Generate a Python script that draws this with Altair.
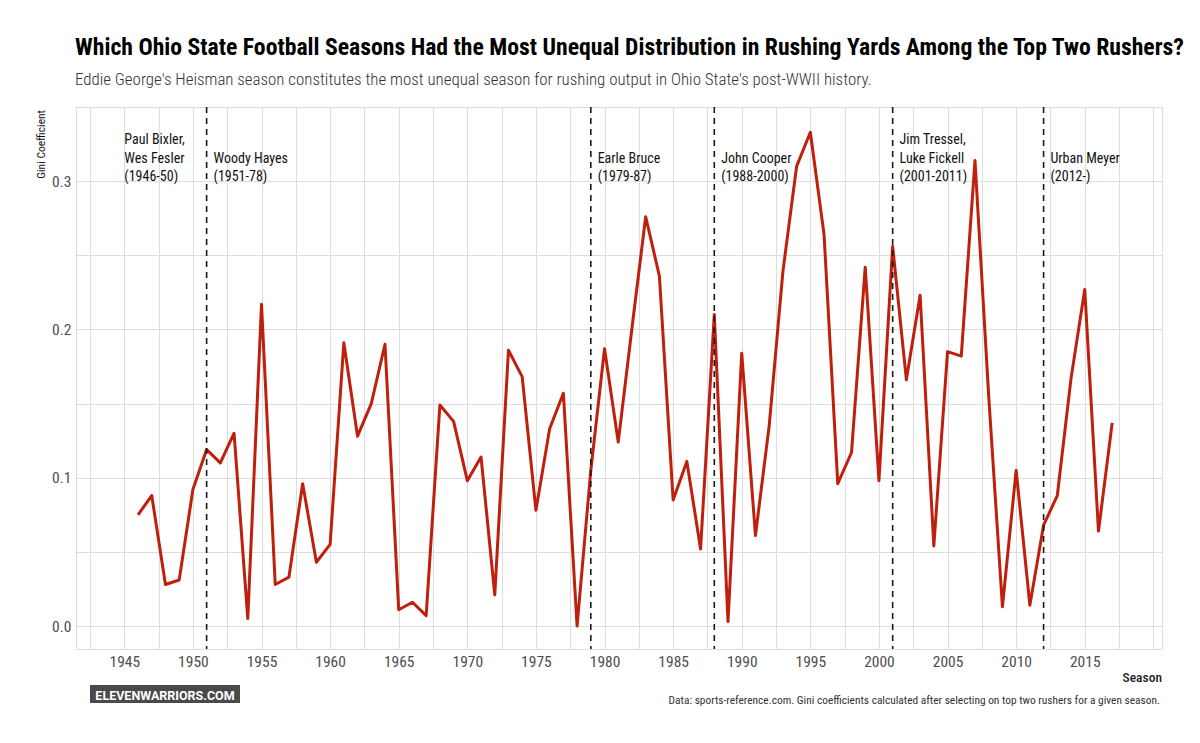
import altair as alt
import pandas as pd

# ---- data ----
seasons = list(range(1946, 2018))
gini = [0.075, 0.088, 0.028, 0.031, 0.092, 0.119, 0.110, 0.130, 0.005, 0.217,
        0.028, 0.033, 0.096, 0.043, 0.055, 0.191, 0.128, 0.150, 0.190, 0.011,
        0.016, 0.007, 0.149, 0.138, 0.098, 0.114, 0.021, 0.186, 0.168, 0.078,
        0.133, 0.157, 0.000, 0.105, 0.187, 0.124, 0.201, 0.276, 0.236, 0.085,
        0.111, 0.052, 0.210, 0.003, 0.184, 0.061, 0.135, 0.239, 0.310, 0.333,
        0.264, 0.096, 0.117, 0.242, 0.098, 0.256, 0.166, 0.223, 0.054, 0.185,
        0.182, 0.314, 0.155, 0.013, 0.105, 0.014, 0.068, 0.088, 0.167, 0.227,
        0.064, 0.137]

coach_change_years = [1951, 1979, 1988, 2001, 2012]

coach_label_x = [1945, 1951.5, 1979.5, 1988.5, 2001.5, 2012.5]
coach_label_lines = [
    ["Paul Bixler,", "Wes Fesler", "(1946-50)"],
    ["Woody Hayes", "(1951-78)"],
    ["Earle Bruce", "(1979-87)"],
    ["John Cooper", "(1988-2000)"],
    ["Jim Tressel,", "Luke Fickell", "(2001-2011)"],
    ["Urban Meyer", "(2012-)"],
]
label_y = 0.3

x_grid_values = [1942.5, 1945, 1947.5, 1950, 1952.5, 1955, 1957.5, 1960, 1962.5,
                 1965, 1967.5, 1970, 1972.5, 1975, 1977.5, 1980, 1982.5, 1985,
                 1987.5, 1990, 1992.5, 1995, 1997.5, 2000, 2002.5, 2005, 2007.5,
                 2010, 2012.5, 2015, 2017.5, 2020]
x_label_values = [1945, 1950, 1955, 1960, 1965, 1970, 1975, 1980, 1985, 1990,
                  1995, 2000, 2005, 2010, 2015]
y_grid_values = [0.0, 0.05, 0.1, 0.15, 0.2, 0.25, 0.3, 0.35]
y_label_values = ["0.0", "0.1", "0.2", "0.3"]
x_domain = [1941.48, 2020.63]
y_domain = [-0.0155, 0.35]

title_text = ("Which Ohio State Football Seasons Had the Most Unequal Distribution "
              "in Rushing Yards Among the Top Two Rushers?")
subtitle_text = ("Eddie George's Heisman season constitutes the most unequal season "
                 "for rushing output in Ohio State's post-WWII history.")
caption_text = ("Data: sports-reference.com. Gini coefficients calculated after "
                "selecting on top two rushers for a given season.")
logo_text = "ELEVENWARRIORS.COM"
x_title = "Season"
y_title = "Gini Coefficient"

NARROW = "Roboto Condensed, DejaVu Sans Condensed, Liberation Sans Narrow, Roboto"
W, H = 1086, 542

df = pd.DataFrame({"Season": seasons, "Gini": gini})
vdf = pd.DataFrame({"Season": coach_change_years})
rows = []
for x, lines in zip(coach_label_x, coach_label_lines):
    n = len(lines)
    for i, t in enumerate(lines):
        rows.append({"Season": x, "Gini": label_y, "text": t, "row": n - 1 - i})
ldf = pd.DataFrame(rows)

xscale = alt.Scale(domain=x_domain, nice=False, zero=False)
yscale = alt.Scale(domain=y_domain, nice=False, zero=False)

x_label_expr = "indexof(" + str(x_label_values) + ", datum.value) >= 0 ? format(datum.value, 'd') : ''"
y_label_expr = ("indexof(" + str(y_label_values) + ", format(datum.value, '.1f')) >= 0 "
                "&& abs(datum.value*10 - round(datum.value*10)) < 0.001 ? format(datum.value, '.1f') : ''")

x_axis = alt.Axis(values=x_grid_values, grid=True, ticks=False, domain=False,
                  labelExpr=x_label_expr,
                  labelFont=NARROW, labelFontSize=15.5, labelColor="#4d4d4d",
                  labelPadding=5, labelOverlap=False, labelFlush=False,
                  labelBound=False, title=None)
y_axis = alt.Axis(values=y_grid_values, grid=True, ticks=False, domain=False,
                  labelExpr=y_label_expr,
                  labelFont=NARROW, labelFontSize=15.5, labelColor="#4d4d4d",
                  labelPadding=5, labelOverlap=False, labelFlush=False, title=None)

X = lambda: alt.X("Season:Q", scale=xscale, axis=x_axis)
Y = lambda: alt.Y("Gini:Q", scale=yscale, axis=y_axis)

line = alt.Chart(df).mark_line(color="#bf1f0d", strokeWidth=3, strokeJoin="round").encode(
    x=X(), y=Y(),
)

vlines = alt.Chart(vdf).mark_rule(color="#1a1a1a", strokeWidth=1.6, strokeDash=[6, 5]).encode(
    x=X(),
    y=alt.value(0),
    y2=alt.value(H),
)

label_layers = []
for r in range(3):
    label_layers.append(
        alt.Chart(ldf).transform_filter(alt.datum.row == r).mark_text(
            align="left", baseline="alphabetic", font=NARROW, fontSize=14,
            color="#111111", dy=-18.5 * r
        ).encode(
            x=X(), y=Y(),
            text="text:N",
        )
    )

def txt(t, x, y, **kw):
    return alt.Chart(pd.DataFrame({"t": [t]})).mark_text(**kw).encode(
        text="t:N", x=alt.value(x), y=alt.value(y))

title = txt(title_text, -1, -52, align="left", baseline="alphabetic", font=NARROW,
            fontSize=23.7, fontWeight="bold", color="#000000")
subtitle = txt(subtitle_text, -1, -22, align="left", baseline="alphabetic", font=NARROW,
               fontSize=16.9, fontWeight=300, color="#333333")
caption = txt(caption_text, 1084, 597, align="right", baseline="alphabetic", font=NARROW,
              fontSize=11.4, color="#333333")
season_lbl = txt(x_title, W, 575, align="right", baseline="alphabetic", font=NARROW,
                 fontSize=13.5, fontWeight=500, color="#222222")
gini_lbl = txt(y_title, -34, 3, align="right", baseline="middle", angle=270, font=NARROW,
               fontSize=11.5, color="#111111")

logo_box = alt.Chart(pd.DataFrame({"t": [logo_text]})).mark_rect(color="#4a4a4a").encode(
    x=alt.value(14), x2=alt.value(164), y=alt.value(578), y2=alt.value(596))
logo = txt(logo_text, 89, 593, align="center", baseline="alphabetic", font="Roboto",
           fontSize=12.5, fontWeight="bold", color="#ffffff")

chart = alt.layer(
    line, vlines, *label_layers, title, subtitle, caption, season_lbl, gini_lbl,
    logo_box, logo
).properties(
    width=W, height=H,
    autosize=alt.AutoSizeParams(type="none"),
    padding={"left": 68, "top": 99, "right": 30, "bottom": 86},
).configure_view(stroke=None).configure_axis(
    gridColor="#e8e8e8", gridWidth=1
).configure(background="#ffffff")

chart.save("out.html", embed_options={"renderer": "svg", "actions": False})
